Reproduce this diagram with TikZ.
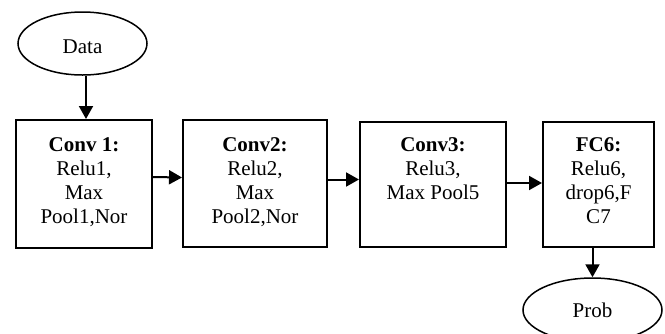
\documentclass[tikz,border=0pt]{standalone}
\usepackage{fontspec}
\setmainfont{Liberation Serif}
\usetikzlibrary{arrows.meta,shapes.geometric}
\usetikzlibrary{positioning}
\newcommand{\stacklines}[1]{\begin{tabular}[t]{@{}c@{}}#1\end{tabular}}

\begin{document}
\begin{tikzpicture}[x=1pt,y=-1pt,
    every node/.style = {font=\fontsize{21}{24}\selectfont},
    layer/.style = {shape=rectangle, draw, line width=2pt, inner sep=0pt},
    io/.style = {shape=ellipse, draw, line width=1.5pt, inner sep=0pt},
    txt/.style = {anchor=base, inner sep=0pt},
    flow/.style = {line width=2pt, -{Triangle[length=13pt,width=14pt]}}]
    \useasboundingbox (0,0) rectangle (665,333);
    % input and output
    \node[io, minimum width=129pt, minimum height=63pt] (data) at (82.5,43.5) {};
    \node[txt] at ([yshift=-9.5pt]data.center) {Data};
    \node[io, minimum width=139pt, minimum height=64pt] (prob) at (592.5,310) {};
    \node[txt] at ([yshift=-7pt]prob.center) {Prob};
    % layers
    \node[layer, minimum width=136pt, minimum height=128pt] (conv1) at (84,184) {};
    \node[layer, minimum width=144pt, minimum height=127pt] (conv2) at (255,183.5) {};
    \node[layer, minimum width=146pt, minimum height=125pt] (conv3) at (433,184.5) {};
    \node[layer, minimum width=111pt, minimum height=125pt] (fc6) at (598.5,184.5) {};
    \node[txt] at ([yshift=-32pt]conv1.north) {\stacklines{\textbf{Conv 1:}\\Relu1,\\Max\\Pool1,Nor}};
    \node[txt] at ([yshift=-32pt]conv2.north) {\stacklines{\textbf{Conv2:}\\Relu2,\\Max\\Pool2,Nor}};
    \node[txt] at ([yshift=-30pt]conv3.north) {\stacklines{\textbf{Conv3:}\\Relu3,\\Max Pool5}};
    \node[txt] at ([yshift=-30pt]fc6.north) {\stacklines{\textbf{FC6:}\\Relu6,\\drop6,F\\C7}};
    % connectors
    \draw[flow] ([xshift=3.5pt]data.south) -- ([xshift=2pt]conv1.north);
    \draw[flow] ([yshift=7pt]conv1.east) -- ([yshift=6pt]conv2.west);
    \draw[flow] ([yshift=4pt]conv2.east) -- ([yshift=5pt]conv3.west);
    \draw[flow] ([yshift=1.5pt]conv3.east) -- ([yshift=1.5pt]fc6.west);
    \draw[flow] ([xshift=-6pt]fc6.south) -- (prob.north);
\end{tikzpicture}
\end{document}
